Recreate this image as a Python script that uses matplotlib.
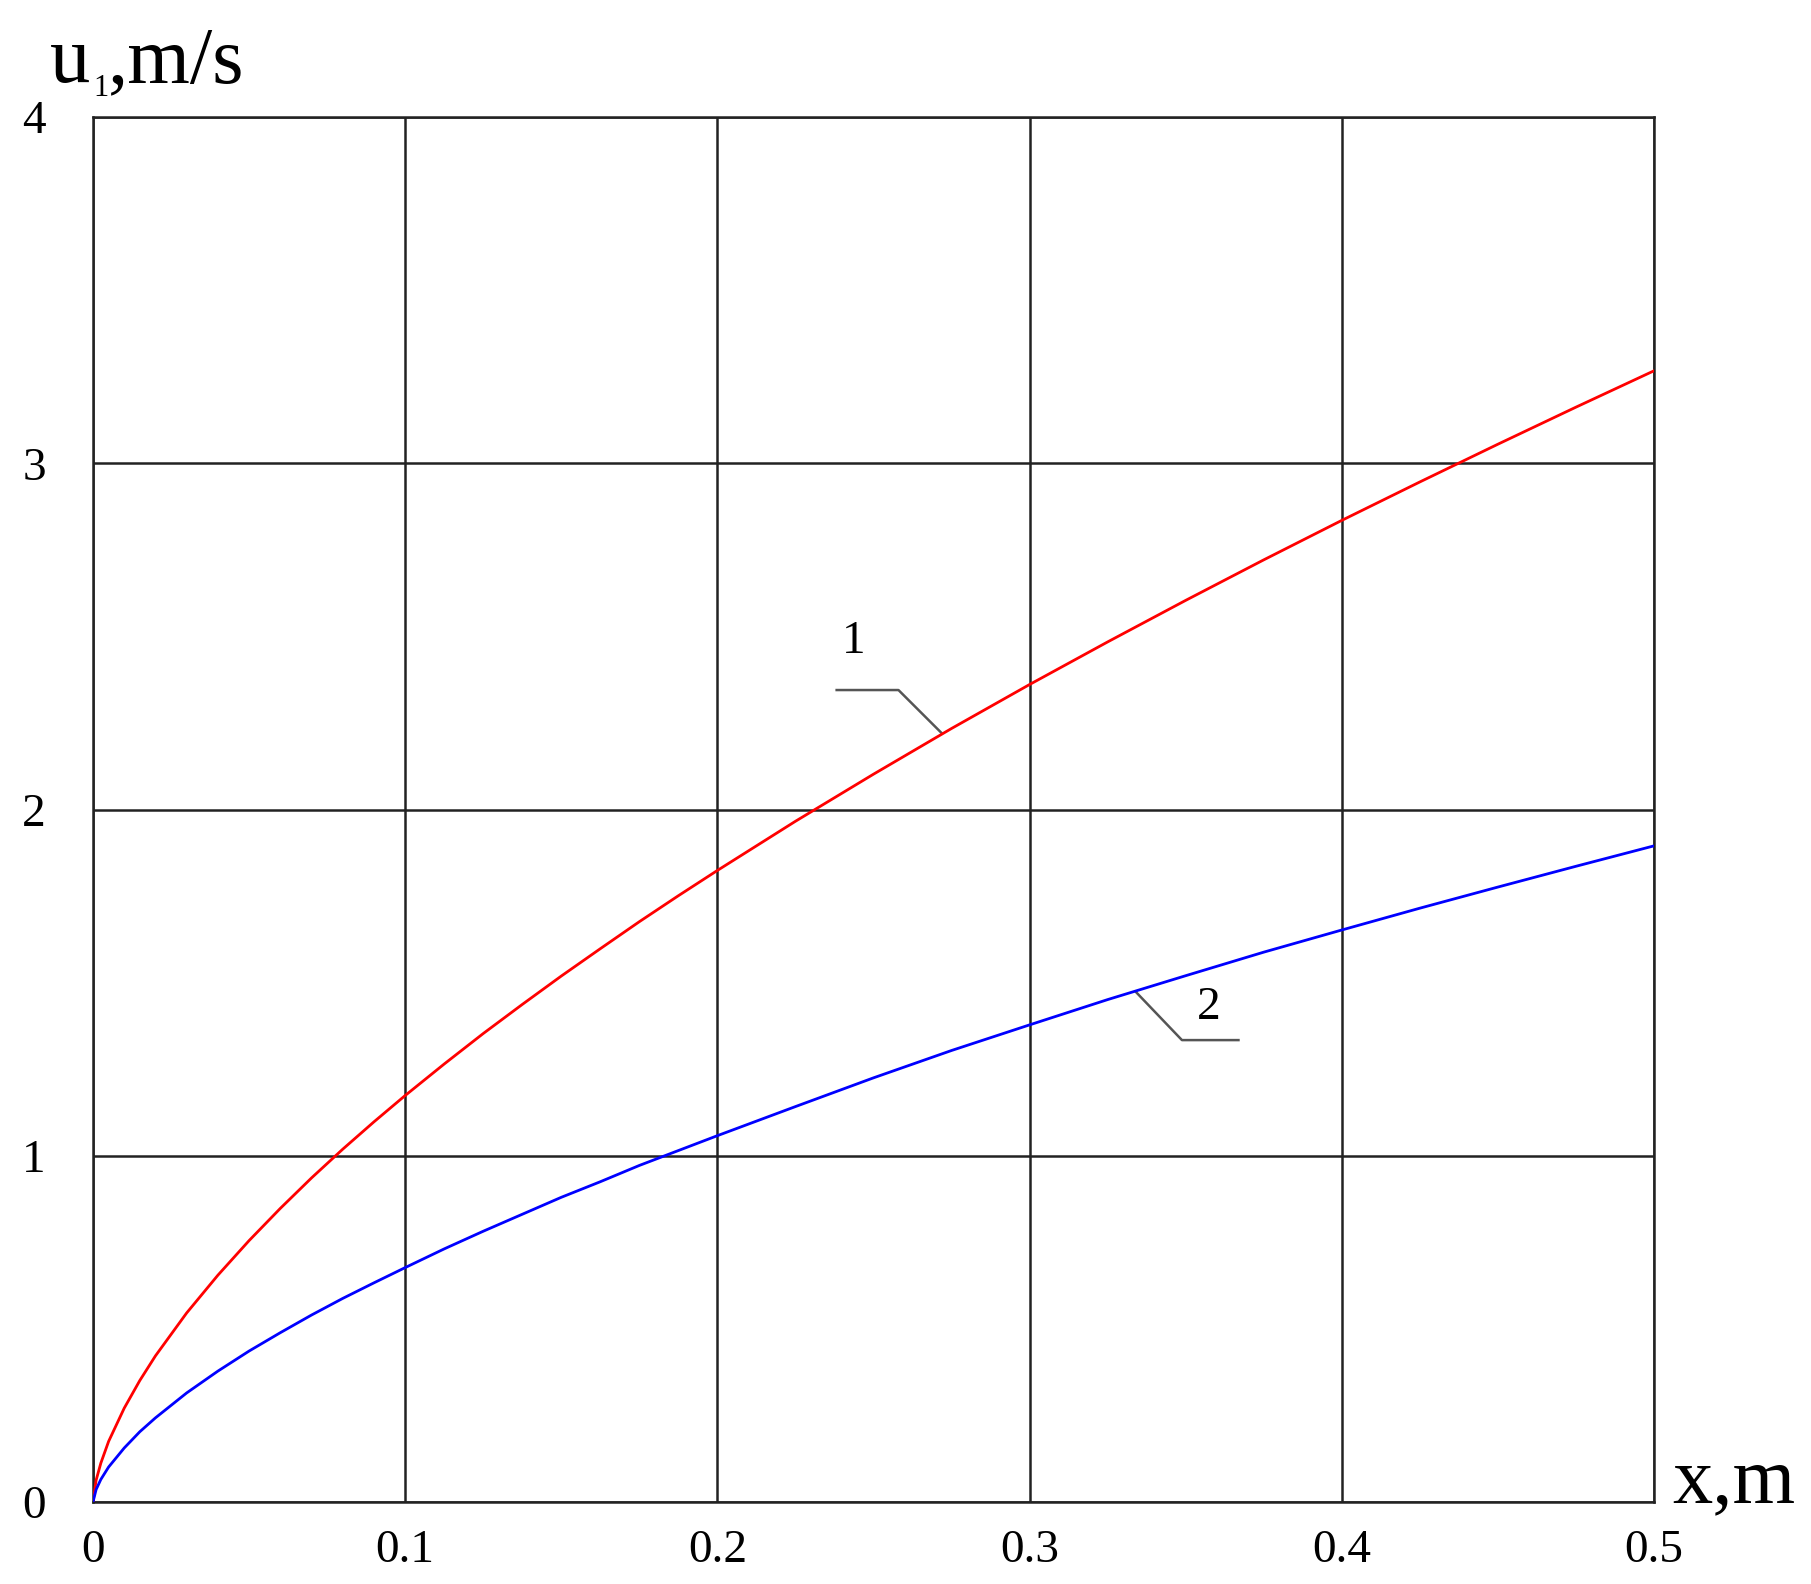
import matplotlib
matplotlib.use("Agg")
import matplotlib.pyplot as plt

plt.rcParams["font.family"] = ["Liberation Serif", "DejaVu Serif"]

# values
x = [0, 0.001, 0.0025, 0.005, 0.01, 0.015, 0.02, 0.03, 0.04, 0.05, 0.06, 0.07, 0.08, 0.09,
     0.1, 0.1125, 0.125, 0.1375, 0.15, 0.1625, 0.175, 0.1875, 0.2, 0.225, 0.25, 0.275,
     0.3, 0.325, 0.35, 0.375, 0.4, 0.425, 0.45, 0.475, 0.5]
u_curve1 = [0, 0.063, 0.112, 0.175, 0.271, 0.351, 0.422, 0.546, 0.655, 0.755, 0.848, 0.936, 1.019, 1.098,
            1.174, 1.265, 1.353, 1.437, 1.519, 1.598, 1.676, 1.751, 1.824, 1.966, 2.102, 2.234,
            2.361, 2.484, 2.604, 2.721, 2.835, 2.946, 3.055, 3.162, 3.267]
u_curve2 = [0, 0.036, 0.065, 0.101, 0.156, 0.203, 0.243, 0.315, 0.378, 0.436, 0.489, 0.540, 0.588, 0.633,
            0.677, 0.731, 0.782, 0.831, 0.880, 0.925, 0.972, 1.015, 1.058, 1.142, 1.225, 1.304,
            1.378, 1.451, 1.520, 1.588, 1.652, 1.715, 1.776, 1.836, 1.895]

x_ticks = [0, 0.1, 0.2, 0.3, 0.4, 0.5]
x_ticklabels = ["0", "0.1", "0.2", "0.3", "0.4", "0.5"]
y_ticks = [0, 1, 2, 3, 4]
y_ticklabels = ["0", "1", "2", "3", "4"]

# curve labels: text position and leader line points
label1_pos = (0.2438, 2.484)
leader1_x = [0.2382, 0.2580, 0.2719]
leader1_y = [2.345, 2.345, 2.220]
label2_pos = (0.3575, 1.427)
leader2_x = [0.3340, 0.3488, 0.3669]
leader2_y = [1.4735, 1.334, 1.334]

W, H = 1811, 1584
fig = plt.figure(figsize=(W / 100, H / 100), dpi=100)
ax = fig.add_axes([93 / W, 82 / H, (1654 - 93) / W, (1502 - 117) / H])

ax.plot(x, u_curve1, color="#ff0000", lw=2.0, zorder=3)
ax.plot(x, u_curve2, color="#0000ff", lw=2.0, zorder=3)

ax.plot(leader1_x, leader1_y, color="#555555", lw=1.8)
ax.plot(leader2_x, leader2_y, color="#555555", lw=1.8)
ax.text(*label1_pos, "1", fontsize=34, ha="center", va="center")
ax.text(*label2_pos, "2", fontsize=34, ha="center", va="center")

ax.set_xlim(0, 0.5)
ax.set_ylim(0, 4)
ax.set_xticks(x_ticks)
ax.set_xticklabels(x_ticklabels)
ax.set_yticks(y_ticks)
ax.set_yticklabels(y_ticklabels)
ax.tick_params(length=0, labelsize=34)
ax.tick_params(axis="x", pad=20)
ax.tick_params(axis="y", pad=34)
ax.grid(True, color="#222222", lw=1.8)
for s in ax.spines.values():
    s.set_color("#222222")
    s.set_linewidth(1.8)

# axis titles: u with a small subscript 1, and x,m
fig.text(50 / W, 1 - 82 / H, "u", fontsize=58, ha="left", va="baseline")
fig.text(93 / W, 1 - 96 / H, "1", fontsize=22, ha="left", va="baseline")
fig.text(108 / W, 1 - 82 / H, ",m/s", fontsize=58, ha="left", va="baseline")
fig.text(1672 / W, 82 / H, "x,m", fontsize=58, ha="left", va="baseline")

fig.savefig("out.png", dpi=100, facecolor="white")
